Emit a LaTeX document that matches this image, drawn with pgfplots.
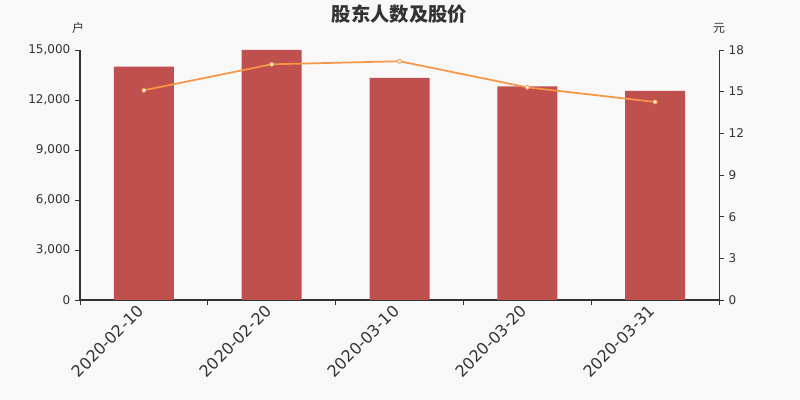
\documentclass[border=0pt]{standalone}
\usepackage{pgfplots}
\pgfplotsset{compat=1.18}
\usepackage{fontspec}
\setmainfont{DejaVu Sans}
\newfontfamily\cjk{Noto Sans CJK SC}
\definecolor{bg}{HTML}{F8F8F8}
\definecolor{barred}{HTML}{C0504D}
\definecolor{lineor}{HTML}{F79646}
\definecolor{axgray}{HTML}{333333}
\pgfplotsset{
  common/.style={
    at={(60pt,75pt)}, anchor=south west,
    scale only axis, width=479.25pt, height=187.5pt,
    xmin=-0.5, xmax=4.5,
    tick align=outside,
    major tick length=3.75pt, minor tick length=3.75pt,
    axis line style={axgray, line width=0.75pt},
    every tick/.style={axgray, line width=0.6pt},
    tick label style={text=axgray},
    y tick label style={font=\fontsize{9}{11}\selectfont},
    /pgf/number format/assume math mode=true,
    /pgf/number format/1000 sep={,},
  },
}
\begin{document}
\begin{tikzpicture}
\fill[bg] (0,0) rectangle (600pt,300pt);
\node[font=\cjk\bfseries\fontsize{14.5}{16}\selectfont, text=axgray] at (299.5pt,289.5pt) {股东人数及股价};
\node[font=\cjk\fontsize{9}{11}\selectfont, text=axgray] at (58.5pt,279pt) {户};
\node[font=\cjk\fontsize{9}{11}\selectfont, text=axgray] at (539.25pt,279pt) {元};

\begin{axis}[
    common,
    ymin=0, ymax=15000,
    axis x line*=bottom, axis y line*=left,
    ytick={0,3000,6000,9000,12000,15000},
    scaled y ticks=false,
    xtick={0,1,2,3,4},
    xticklabels={2020-02-10,2020-02-20,2020-03-10,2020-03-20,2020-03-31},
    every major x tick/.append style={draw=none},
    minor xtick={-0.5,0.5,1.5,2.5,3.5,4.5},
    x tick label style={rotate=45, anchor=east, font=\fontsize{12}{14}\selectfont},
  ]
  \addplot[ybar, bar width=45pt, fill=barred, draw=none]
    coordinates {
      (0, 14000)
      (1, 15000)
      (2, 13320)
      (3, 12820)
      (4, 12540)
    };
\end{axis}

\begin{axis}[
    common,
    ymin=0, ymax=18,
    axis y line*=right,
    axis x line=none,
    ytick={0,3,6,9,12,15,18},
  ]
  \addplot[lineor, line width=1.3pt, mark=*, mark size=1.5pt,
           mark options={fill=white, draw=lineor, line width=0.6pt}]
    coordinates {
      (0, 15.10)
      (1, 16.97)
      (2, 17.19)
      (3, 15.31)
      (4, 14.26)
    };
\end{axis}
\pgfresetboundingbox
\path[use as bounding box] (0,0) rectangle (600pt,300pt);
\end{tikzpicture}
\end{document}
